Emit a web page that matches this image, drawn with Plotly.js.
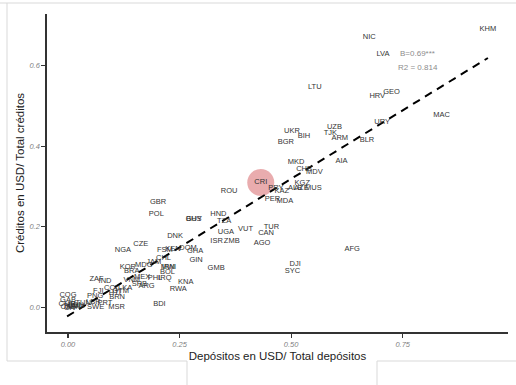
<!DOCTYPE html>
<html>
<head>
<meta charset="utf-8">
<script src="https://cdn.plot.ly/plotly-3.0.1.min.js"></script>
<style>
  html, body { margin: 0; padding: 0; background: #fff; }
  #chart { width: 516px; height: 385px; }
</style>
</head>
<body>
<div id="chart"></div>
<script>
// ---- Data ----
const countries = [
  "KHM","NIC","LVA","LTU","HRV","GEO","MAC","URY","UZB","UKR","BIH","TJK","ARM","BGR","BLR",
  "MKD","AIA","CHE","MDV","KGZ","ALB","AZE","MUS","KAZ","PRY","PER","MDA","CRI","ROU",
  "GBR","POL","GUY","BHS","HND","TZA","VUT","TUR","CAN","UGA","ISR","ZMB","AGO",
  "DNK","FSM","KEN","DOM","GHA","GIN","GMB","AFG","DJI","SYC","KNA","RWA","BDI",
  "NGA","CZE","KOR","BRA","MDG","JAM","CHL","MWI","IRN","BOL","PHL","IRQ",
  "ZAF","IND","FJI","PNG","COG","VNM","MEX","SRB","ARG","COL","GTM","LKA","BRN","HTI","MSR",
  "PRT","SWE","TUN","LBR","GAB","CMR","TCD","CAF","SEN","BEN","MLI","CIV"
];
const depositShare = [
  0.941,0.675,0.706,0.553,0.693,0.725,0.837,0.704,0.597,0.502,0.529,0.588,0.609,0.488,0.670,
  0.511,0.613,0.529,0.552,0.525,0.509,0.523,0.550,0.479,0.466,0.458,0.486,0.432,0.361,
  0.202,0.198,0.282,0.282,0.337,0.350,0.398,0.456,0.444,0.354,0.333,0.367,0.435,
  0.240,0.217,0.235,0.269,0.285,0.287,0.332,0.637,0.509,0.503,0.264,0.247,0.205,
  0.123,0.163,0.134,0.143,0.170,0.192,0.214,0.225,0.225,0.223,0.195,0.217,
  0.064,0.083,0.068,0.061,0.000,0.143,0.166,0.160,0.176,0.098,0.118,0.128,0.110,0.105,0.109,
  0.083,0.062,0.034,0.057,0.000,-0.002,0.006,0.000,0.012,0.018,0.024,0.005
];
const creditShare = [
  0.690,0.670,0.628,0.546,0.525,0.535,0.476,0.460,0.447,0.438,0.425,0.432,0.419,0.410,0.414,
  0.361,0.363,0.343,0.335,0.309,0.295,0.295,0.297,0.289,0.296,0.268,0.264,0.310,0.288,
  0.261,0.232,0.218,0.218,0.231,0.214,0.195,0.200,0.184,0.186,0.165,0.164,0.159,
  0.177,0.141,0.144,0.146,0.139,0.118,0.098,0.144,0.107,0.090,0.062,0.046,0.007,
  0.143,0.157,0.100,0.090,0.106,0.112,0.123,0.100,0.100,0.087,0.072,0.072,
  0.070,0.064,0.041,0.029,0.030,0.068,0.074,0.058,0.054,0.049,0.040,0.048,0.025,0.035,0.000,
  0.010,0.000,0.010,0.013,0.017,0.008,0.004,0.000,0.001,0.006,0.002,-0.001
];
const highlightCountry = "CRI";
const fitSlope = 0.68;
const fitIntercept = -0.021;
const statTextB = "B=0.69***";
const statTextR2 = "R2 = 0.814";
const xTickVals = [0, 0.25, 0.5, 0.75];
const yTickVals = [0, 0.2, 0.4, 0.6];
const xTitle = "Depósitos en USD/ Total depósitos";
const yTitle = "Créditos en USD/ Total créditos";

// ---- Derived ----
const hi = countries.indexOf(highlightCountry);
const xMin = Math.min(...depositShare), xMax = Math.max(...depositShare);
const fitX = [xMin, xMax];
const fitY = fitX.map(v => fitIntercept + fitSlope * v);

const FONT = "Liberation Sans, Arial, sans-serif";

const traces = [
  {
    x: [depositShare[hi]], y: [creditShare[hi]],
    mode: "markers", type: "scatter",
    marker: { size: 27, color: "rgb(233,172,174)" },
    hoverinfo: "skip", cliponaxis: false
  },
  {
    x: fitX, y: fitY, mode: "lines", type: "scatter",
    line: { color: "#000", width: 2, dash: "8px,6px" },
    hoverinfo: "skip"
  },
  {
    x: depositShare, y: creditShare, text: countries,
    mode: "text", type: "scatter", textposition: "middle center",
    textfont: { family: FONT, size: 7.5, color: "#333" },
    cliponaxis: false
  }
];

// decorative frame lines (pixel -> paper conversion)
const L = 47, R = 508, T = 14, B = 332;
const px = x => (x - L) / (R - L);
const py = y => (B - y) / (B - T);
const frame = [
  [0, 3, 516, 3], [7, 3, 7, 361], [7, 361, 187, 361], [187, 361, 187, 385],
  [377, 361, 377, 385], [377, 361, 516, 361]
].map(s => ({
  type: "line", xref: "paper", yref: "paper",
  x0: px(s[0]), y0: py(s[1]), x1: px(s[2]), y1: py(s[3]),
  line: { color: "#d9d9d9", width: 1 }
}));

const layout = {
  width: 516, height: 385,
  margin: { l: L, r: 516 - R, t: T, b: 385 - B },
  paper_bgcolor: "#fff", plot_bgcolor: "#fff",
  showlegend: false,
  font: { family: FONT, color: "#333" },
  xaxis: {
    range: [-0.047, 0.986], tickvals: xTickVals, tickformat: ".2f",
    showgrid: false, zeroline: false,
    showline: true, linecolor: "#333", linewidth: 1.6,
    ticks: "outside", ticklen: 4, tickcolor: "#333", tickwidth: 1.2,
    tickfont: { family: FONT, size: 7.5, color: "#808080", style: "italic" },
    title: { text: xTitle, font: { family: FONT, size: 11.5, color: "#222" }, standoff: 4 }
  },
  yaxis: {
    range: [-0.061, 0.728], tickvals: yTickVals, tickformat: ".1f",
    showgrid: false, zeroline: false,
    showline: true, linecolor: "#333", linewidth: 1.6,
    ticks: "outside", ticklen: 4, tickcolor: "#333", tickwidth: 1.2,
    tickfont: { family: FONT, size: 7.5, color: "#808080", style: "italic" },
    title: { text: yTitle, font: { family: FONT, size: 11.5, color: "#222" }, standoff: 2 }
  },
  annotations: [
    { x: 0.739, y: 0.629, xref: "x", yref: "y", text: statTextB, showarrow: false,
      xanchor: "left", yanchor: "middle", font: { family: FONT, size: 8, color: "#8c8c8c" } },
    { x: 0.735, y: 0.595, xref: "x", yref: "y", text: statTextR2, showarrow: false,
      xanchor: "left", yanchor: "middle", font: { family: FONT, size: 8, color: "#8c8c8c" } }
  ],
  shapes: frame
};

Plotly.newPlot("chart", traces, layout, { displayModeBar: false, staticPlot: true });
</script>
</body>
</html>
